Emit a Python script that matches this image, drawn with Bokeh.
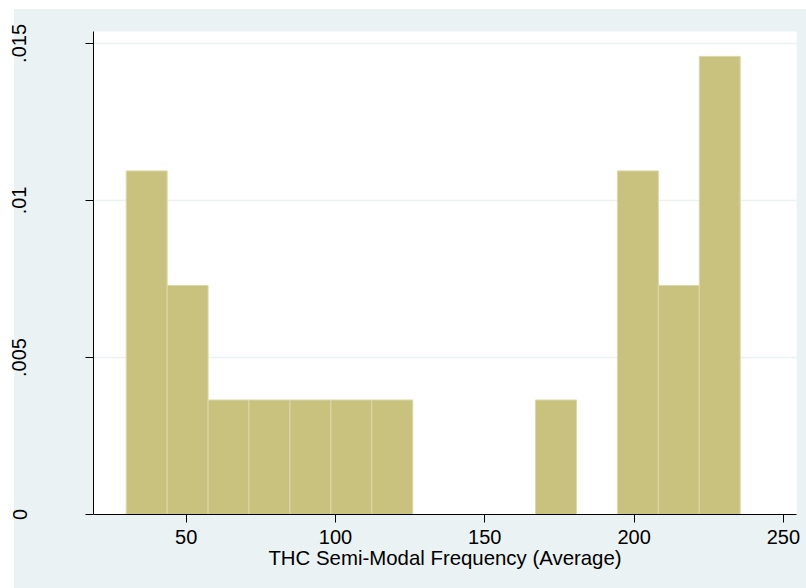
from bokeh.plotting import figure
from bokeh.models import FixedTicker, Range1d
from bokeh.embed import file_html
from bokeh.resources import INLINE
import numpy as np

# Histogram data (Stata-style density histogram, 15 bins)
bin_start = 29.9
bin_width = 13.71
counts = [3, 2, 1, 1, 1, 1, 1, 0, 0, 0, 1, 0, 3, 2, 4]
n_obs = 20

x_ticks = [50, 100, 150, 200, 250]
y_ticks = [0, 0.005, 0.01, 0.015]
y_tick_labels = ["0", ".005", ".01", ".015"]
x_title = "THC Semi-Modal Frequency (Average)"

counts_arr = np.array(counts, dtype=float)
lefts = bin_start + bin_width * np.arange(len(counts))
rights = lefts + bin_width
dens = counts_arr / (n_obs * bin_width)

BG = "#EAF2F3"
FONT = "Liberation Sans"

p = figure(width=806, height=588, output_backend="svg", toolbar_location=None,
           x_range=Range1d(18.94, 254.4), y_range=Range1d(0, 0.01538),
           min_border_left=93, min_border_right=10, min_border_top=31, min_border_bottom=74)
# graph region: light blue-grey panel, inset from the page's top-left corner
p.border_fill_color = None
p.styles = {"background": "linear-gradient(%s, %s) 14px 9px / 792px 579px no-repeat, white" % (BG, BG)}
p.background_fill_color = "white"
p.outline_line_color = None

p.quad(left=lefts[counts_arr > 0], right=rights[counts_arr > 0],
       bottom=0, top=dens[counts_arr > 0],
       fill_color="#C9C27F", line_color="#DCD7A8", line_width=1)

p.xgrid.visible = False
p.ygrid.ticker = FixedTicker(ticks=y_ticks)
p.ygrid.grid_line_color = BG
p.ygrid.grid_line_width = 1.5

p.xaxis.ticker = FixedTicker(ticks=x_ticks)
p.yaxis.ticker = FixedTicker(ticks=y_ticks)
p.yaxis.major_label_overrides = {t: l for t, l in zip(y_ticks, y_tick_labels)}

for ax in (p.xaxis, p.yaxis):
    ax.axis_line_color = "black"
    ax.axis_line_width = 1
    ax.major_tick_line_color = "black"
    ax.major_tick_out = 8
    ax.major_tick_in = 0
    ax.minor_tick_line_color = None
    ax.major_label_text_font = FONT
    ax.major_label_text_font_size = "20px"
    ax.major_label_text_color = "black"

p.yaxis.major_label_orientation = "vertical"
p.yaxis.major_label_standoff = 59
p.xaxis.major_label_standoff = 7

p.xaxis.axis_label = x_title
p.xaxis.axis_label_text_font = FONT
p.xaxis.axis_label_text_font_size = "20.4px"
p.xaxis.axis_label_text_font_style = "normal"
p.xaxis.axis_label_text_color = "black"
p.xaxis.axis_label_standoff = 0

open("out.html", "w").write(file_html(p, INLINE))
